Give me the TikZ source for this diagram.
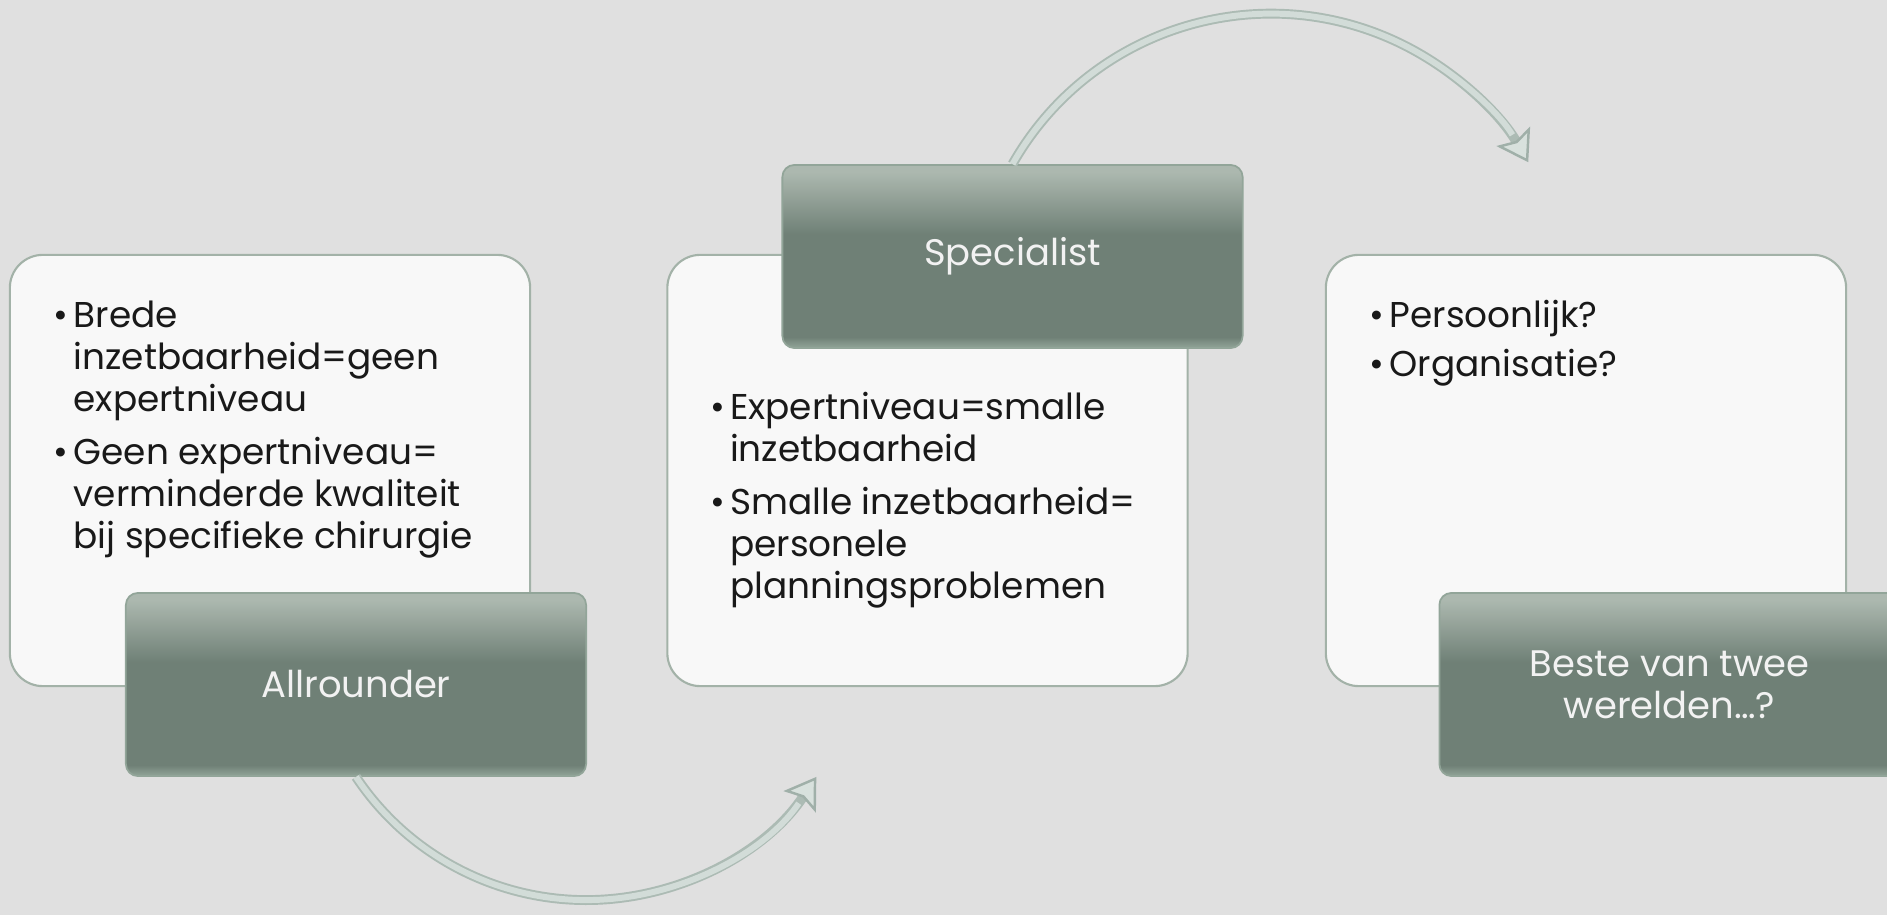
\documentclass[tikz,border=0pt]{standalone}
\usepackage{fontspec}
\setmainfont{Poppins}
\usetikzlibrary{positioning, arrows.meta}
\usepackage{xcolor}

\definecolor{slidebg}{RGB}{224,224,224}
\definecolor{cardfill}{RGB}{248,248,248}
\definecolor{cardline}{RGB}{163,178,168}
\definecolor{tiletop}{RGB}{172,184,175}
\definecolor{tiledark}{RGB}{111,128,118}
\definecolor{tilerim}{RGB}{146,165,153}
\definecolor{arcedge}{RGB}{172,187,180}
\definecolor{arcface}{RGB}{210,220,216}
\definecolor{tipfill}{RGB}{216,225,221}
\definecolor{tipedge}{RGB}{160,176,169}

\pgfdeclareverticalshading{tilebar}{100bp}{color(0bp)=(tilerim); color(25bp)=(tilerim); color(28bp)=(tiledark); color(56bp)=(tiledark); color(73bp)=(tiletop); color(100bp)=(tiletop)}

\newcommand{\bitem}[1]{\textbullet\hspace{0.15em}\begin{tabular}[t]{@{}l@{}}#1\end{tabular}}

\begin{document}
\begin{tikzpicture}[
        x=0.01cm, y=0.01cm,
        card/.style={draw=cardline, line width=0.6pt, fill=cardfill, rounded corners=0.33cm,
                     minimum width=5.2cm, minimum height=4.31cm},
        tile/.style={draw=tilerim, line width=0.5pt, shade, shading=tilebar, rounded corners=0.12cm,
                     minimum width=4.6cm, minimum height=1.83cm, inner sep=0pt, align=center,
                     text=white!95!black, font=\fontsize{10.5}{12}\selectfont},
        bullets/.style={align=left, inner sep=0pt, text=black!90, font=\fontsize{10.2}{12}\selectfont},
        flow/.style={line width=2.8pt, draw=arcedge,
                     -{Stealth[length=8.5pt, width=11pt, inset=1.5pt, fill=tipfill, color=tipedge, line width=0.7pt]}},
        shine/.style={line width=1.7pt, draw=arcface, shorten >=9pt},
    ]

    \useasboundingbox (0,0) rectangle (1887,915);
    \clip (0,0) rectangle (1887,915);
    \fill[slidebg] (0,0) rectangle (1887,915);

    % White cards
    \node[card] (cardl) at (270,444.5) {};
    \node[card, right=1.35cm of cardl] (cardm) {};
    \node[card, right=1.36cm of cardm] (cardr) {};

    % Bullet texts
    \node[bullets, below right=0.43cm and 0.44cm of cardl.north west] (txtl)
        {\bitem{Brede\\inzetbaarheid=geen\\expertniveau}\\[2pt]
         \bitem{Geen expertniveau=\\verminderde kwaliteit\\bij specifieke chirurgie}};
    \node[bullets, below right=1.35cm and 0.43cm of cardm.north west] (txtm)
        {\bitem{Expertniveau=smalle\\inzetbaarheid}\\[2pt]
         \bitem{Smalle inzetbaarheid=\\personele\\planningsproblemen}};
    \node[bullets, below right=0.43cm and 0.44cm of cardr.north west] (txtr)
        {\bitem{Persoonlijk?}\\[2pt]
         \bitem{Organisatie?}};

    % Dark tiles
    \node[tile] (allr) at (356,230.5) {Allrounder};
    \node[tile] (spec) at (1012.5,658.5) {Specialist};
    \node[tile] (beste) at (1669.5,230.5) {Beste van twee\\werelden\dots?};

    % Curved arrows
    \draw[flow] (allr.south) arc[start angle=213.7, end angle=326.3, radius=2.765cm];
    \draw[shine] (allr.south) arc[start angle=213.7, end angle=326.3, radius=2.765cm];
    \draw[flow] (spec.north) arc[start angle=150.4, end angle=30, radius=2.97cm];
    \draw[shine] (spec.north) arc[start angle=150.4, end angle=30, radius=2.97cm];

\end{tikzpicture}
\end{document}
